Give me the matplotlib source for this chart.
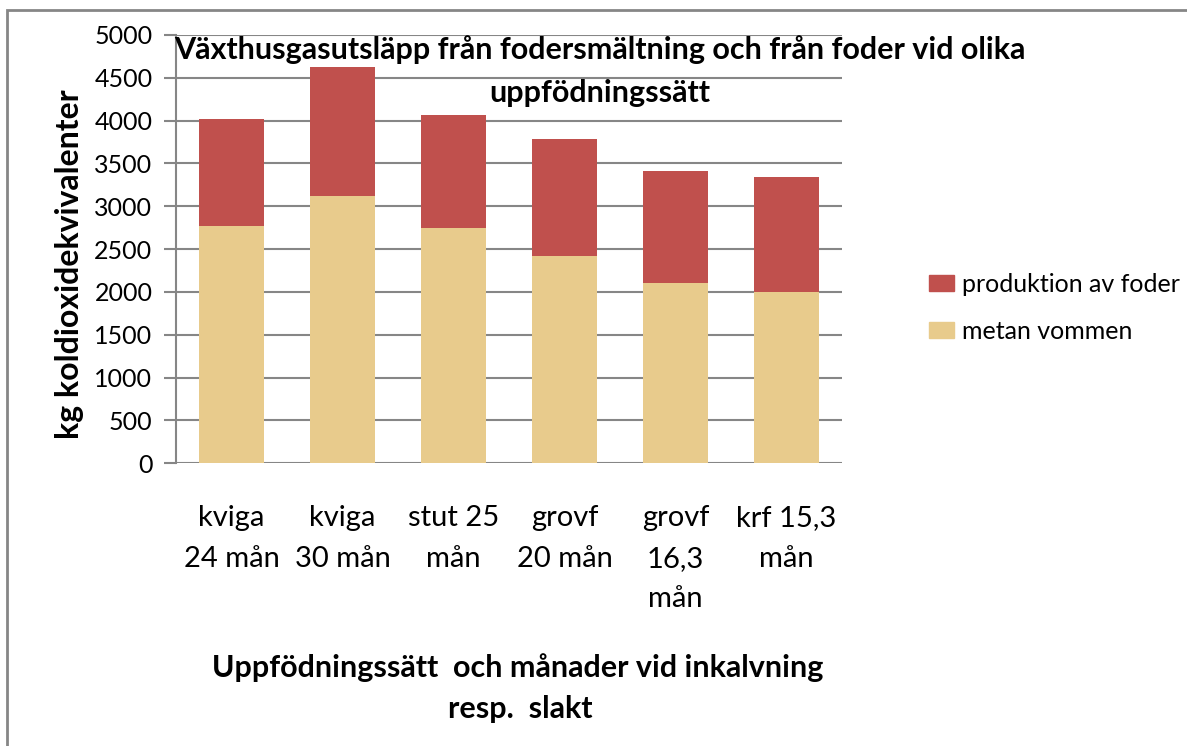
import matplotlib
matplotlib.use("Agg")
import matplotlib.pyplot as plt
from matplotlib.patches import Rectangle, Patch
import numpy as np

plt.rcParams['font.family'] = ['Lato', 'DejaVu Sans']

categories = ["kviga\n24 mån", "kviga\n30 mån", "stut 25\nmån", "grovf\n20 mån", "grovf\n16,3\nmån", "krf 15,3\nmån"]
metan_vommen = [2775, 3125, 2750, 2425, 2100, 2005]
produktion_av_foder = [1245, 1500, 1315, 1365, 1315, 1340]
yticks = [0, 500, 1000, 1500, 2000, 2500, 3000, 3500, 4000, 4500, 5000]

W, H = 1187, 746
fig = plt.figure(figsize=(W / 100, H / 100), dpi=100)
ax = fig.add_axes([176 / W, 1 - 463.3 / H, (842 - 176) / W, (463.3 - 35) / H])

red = '#C0504D'
tan = '#E8CB8C'
grid = '#868686'

x = np.arange(len(categories))
ax.bar(x, metan_vommen, width=0.58, color=tan, label='metan vommen', zorder=3)
ax.bar(x, produktion_av_foder, width=0.58, bottom=metan_vommen, color=red,
       label='produktion av foder', zorder=3)

ax.set_xlim(-0.5, len(categories) - 0.5)
ax.set_ylim(0, 5000)
ax.set_yticks(yticks)
ax.set_yticklabels([str(v) for v in yticks])
ax.set_xticks(x)
ax.set_xticklabels(categories, linespacing=1.7)
ax.yaxis.grid(True, color=grid, linewidth=1.5, zorder=0)
for s in ['top', 'right', 'bottom']:
    ax.spines[s].set_visible(False)
ax.spines['left'].set_color(grid)
ax.spines['left'].set_linewidth(1.5)
ax.tick_params(axis='y', direction='out', length=9, width=1.5, color=grid,
               labelsize=18, pad=8)
ax.tick_params(axis='x', length=0, labelsize=21, pad=30)
ax.set_axisbelow(True)

fig.text(600 / W, 1 - 50 / H,
         "Växthusgasutsläpp från fodersmältning och från foder vid olika",
         ha='center', va='center', fontsize=22, fontweight='bold')
fig.text(600 / W, 1 - 93 / H, "uppfödningssätt",
         ha='center', va='center', fontsize=22, fontweight='bold')

fig.text(70 / W, 1 - 264 / H, "kg koldioxidekvivalenter", rotation=90,
         ha='center', va='center', fontsize=23, fontweight='bold')

fig.text(518 / W, 1 - 668 / H, "Uppfödningssätt  och månader vid inkalvning",
         ha='center', va='center', fontsize=22, fontweight='bold')
fig.text(520 / W, 1 - 709 / H, "resp.  slakt",
         ha='center', va='center', fontsize=22, fontweight='bold')

handles = [Patch(color=red), Patch(color=tan)]
labels = ['produktion av foder', 'metan vommen']
fig.legend(handles, labels, loc='upper left', bbox_to_anchor=(929 / W, 1 - 273 / H),
           frameon=False, fontsize=18, handlelength=1.0, handleheight=0.63,
           handletextpad=0.32, labelspacing=0.95, borderaxespad=0, borderpad=0)

fig.patches.append(Rectangle((7 / W, -0.1), 1.2, 1 - 10 / H + 0.1,
                             transform=fig.transFigure, fill=False,
                             edgecolor=grid, linewidth=2))

fig.savefig('out.png', dpi=100)
